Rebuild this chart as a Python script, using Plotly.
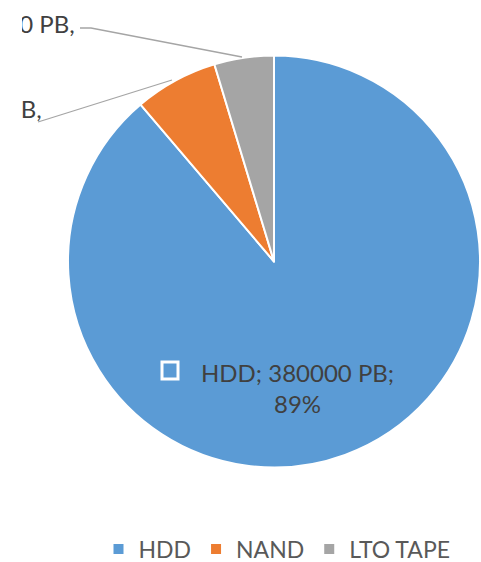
import plotly.graph_objects as go

# Storage capacity shipped by media type
labels = ["HDD", "NAND", "LTO TAPE"]
values = [380000, 28000, 20000]
unit = "PB"
colors = ["#5B9BD5", "#ED7D31", "#A5A5A5"]

W, H = 481, 562
total = sum(values)
pcts = [round(v / total * 100) for v in values]


def px(x):
    return x / W


def py(y):
    return 1 - y / H


fig = go.Figure(
    go.Pie(
        labels=labels,
        values=values,
        marker=dict(colors=colors, line=dict(color="white", width=2)),
        sort=False,
        direction="clockwise",
        rotation=0,
        textinfo="none",
        hoverinfo="label+value+percent",
        domain=dict(x=[px(68), px(480)], y=[py(468), py(55)]),
    )
)

label_font = dict(family="Lato, Calibri, sans-serif", size=24, color="#404040")

# Inside label for the dominant slice
fig.add_annotation(
    x=px(297), y=py(388), xref="paper", yref="paper",
    text=f"{labels[0]}; {values[0]} {unit};<br>{pcts[0]}%",
    showarrow=False, font=label_font, align="center",
    xanchor="center", yanchor="middle",
)
# legend key beside the inside label
fig.add_shape(
    type="rect", xref="paper", yref="paper",
    x0=px(162), x1=px(178), y0=py(379), y1=py(362),
    line=dict(color="white", width=3), fillcolor=colors[0],
)

# Outside labels for the two small slices
fig.add_annotation(
    x=px(77), y=py(7), xref="paper", yref="paper",
    text=f"{labels[2]}; {values[2]} {unit},<br>{pcts[2]}%",
    showarrow=False, font=label_font, align="center",
    xanchor="right", yanchor="top",
)
fig.add_annotation(
    x=px(44), y=py(92), xref="paper", yref="paper",
    text=f"{labels[1]}; {values[1]} {unit},<br>{pcts[1]}%",
    showarrow=False, font=label_font, align="center",
    xanchor="right", yanchor="top",
)

# leader lines
line_style = dict(color="#A5A5A5", width=1.3)
fig.add_shape(type="path", xref="paper", yref="paper",
              path=f"M{px(80)},{py(28)} L{px(91)},{py(28)} L{px(242)},{py(57)}",
              line=line_style)
fig.add_shape(type="line", xref="paper", yref="paper",
              x0=px(38), y0=py(122), x1=px(172), y1=py(80), line=line_style)

# chart-area edge on the left clips the overflowing labels
fig.add_annotation(
    x=0, y=1, xref="paper", yref="paper", text=" ",
    width=22, height=160, bgcolor="white", borderpad=0, borderwidth=0,
    showarrow=False, xanchor="left", yanchor="top",
)

fig.update_layout(
    width=W, height=H,
    margin=dict(l=0, r=0, t=0, b=0, autoexpand=False),
    paper_bgcolor="white", plot_bgcolor="white",
    showlegend=True,
    legend=dict(
        orientation="h", x=px(277), y=py(549),
        xanchor="center", yanchor="middle",
        font=dict(family="Lato, Calibri, sans-serif", size=23, color="#595959"),
        traceorder="normal",
    ),
)

fig.write_html("out.html")
